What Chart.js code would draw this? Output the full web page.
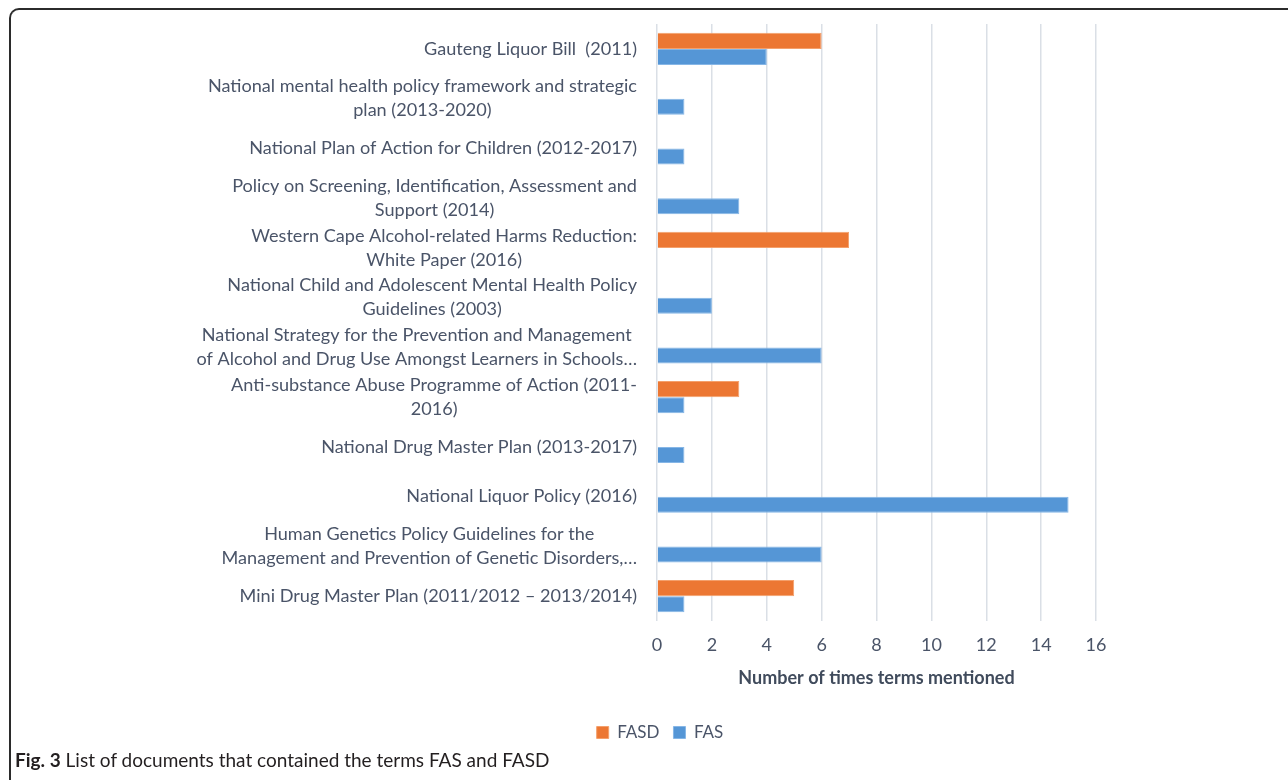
<!DOCTYPE html>
<html>
<head>
<meta charset="utf-8">
<script src="https://cdn.jsdelivr.net/npm/chart.js@4"></script>
<style>
  html, body { margin: 0; padding: 0; background: #fff; }
  #wrap { position: relative; width: 1288px; height: 780px; overflow: hidden; }
  #frame {
    position: absolute; left: 9px; top: 8px; width: 1320px; height: 820px;
    border-top: 2px solid #2b2b2b; border-left: 2px solid #2b2b2b;
    border-top-left-radius: 10px;
  }
  #chart { position: absolute; left: 0; top: 0; }
  #caption {
    position: absolute; left: 15px; top: 748px;
    font-family: Lato, "Noto Sans", sans-serif; font-size: 19px; color: #231f20;
  }
</style>
</head>
<body>
<div id="wrap">
  <div id="frame"></div>
  <canvas id="chart" width="1288" height="780"></canvas>
  <div id="caption"><b>Fig. 3</b> List of documents that contained the terms FAS and FASD</div>
</div>
<script>
// Documents, top to bottom, already split the way the labels wrap
const categories = [
  ['Gauteng Liquor Bill  (2011)'],
  ['National mental health policy framework and strategic', 'plan (2013-2020)'],
  ['National Plan of Action for Children (2012-2017)'],
  ['Policy on Screening, Identification, Assessment and', 'Support (2014)'],
  ['Western Cape Alcohol-related Harms Reduction:', 'White Paper (2016)'],
  ['National Child and Adolescent Mental Health Policy', 'Guidelines (2003)'],
  ['National Strategy for the Prevention and Management', 'of Alcohol and Drug Use Amongst Learners in Schools\u2026'],
  ['Anti-substance Abuse Programme of Action (2011-', '2016)'],
  ['National Drug Master Plan (2013-2017)'],
  ['National Liquor Policy (2016)'],
  ['Human Genetics Policy Guidelines for the', 'Management and Prevention of Genetic Disorders,\u2026'],
  ['Mini Drug Master Plan (2011/2012 \u2013 2013/2014)']
];
const fasdValues = [6, null, null, null, 7, null, null, 3, null, null, null, 5];
const fasValues  = [4, 1, 1, 3, null, 2, 6, 1, 1, 15, 6, 1];
const xMin = 0, xMax = 16, xStep = 2;

const textColor = '#4a5468';
const fontFamily = 'Lato, "Noto Sans", sans-serif';

// Excel-style category labels: block right-aligned to the axis, lines centred inside it
const yLabelPlugin = {
  id: 'yLabels',
  afterDraw(chart) {
    const ctx = chart.ctx;
    const y = chart.scales.y;
    ctx.save();
    ctx.font = '18.1px ' + fontFamily;
    ctx.fillStyle = textColor;
    ctx.textAlign = 'center';
    ctx.textBaseline = 'middle';
    categories.forEach((lines, i) => {
      const cy = y.getPixelForValue(i);
      const w = Math.max(...lines.map(l => ctx.measureText(l).width));
      const cx = chart.chartArea.left - 20 - w / 2;
      lines.forEach((l, j) => {
        ctx.fillText(l, cx, cy + (j - (lines.length - 1) / 2) * 24);
      });
    });
    ctx.restore();
  }
};

new Chart(document.getElementById('chart'), {
  type: 'bar',
  data: {
    labels: categories.map(c => c.join(' ')),
    datasets: [{
      label: 'FASD',
      data: fasdValues,
      backgroundColor: '#ec7733',
      borderColor: '#f4a06c',
      borderWidth: 1
    }, {
      label: 'FAS',
      data: fasValues,
      backgroundColor: '#5596d6',
      borderColor: '#86b6e6',
      borderWidth: 1
    }]
  },
  options: {
    indexAxis: 'y',
    responsive: false,
    animation: false,
    devicePixelRatio: 1,
    categoryPercentage: 0.65,
    barPercentage: 1,
    layout: { padding: { left: 224, right: 192, top: 24, bottom: 29 } },
    scales: {
      x: {
        min: xMin,
        max: xMax,
        ticks: {
          stepSize: xStep,
          padding: 15,
          color: textColor,
          font: { family: fontFamily, size: 18, lineHeight: 1 }
        },
        grid: { color: '#dadfe6', lineWidth: 1.5, drawTicks: false, tickLength: 0 },
        border: { display: false },
        title: {
          display: true,
          text: 'Number of times terms mentioned',
          color: '#404b5c',
          font: { family: fontFamily, size: 18, weight: 'bold', lineHeight: 1 },
          padding: { top: 0, bottom: 23 }
        }
      },
      y: {
        ticks: { display: false },
        grid: { display: false },
        border: { display: false },
        afterFit(scale) { scale.width = 433; }
      }
    },
    plugins: {
      legend: {
        position: 'bottom',
        labels: {
          usePointStyle: true,
          pointStyle: 'rect',
          boxWidth: 12,
          boxHeight: 12,
          padding: 14,
          color: textColor,
          font: { family: fontFamily, size: 17 }
        }
      },
      tooltip: { enabled: false }
    }
  },
  plugins: [yLabelPlugin]
});
</script>
</body>
</html>
